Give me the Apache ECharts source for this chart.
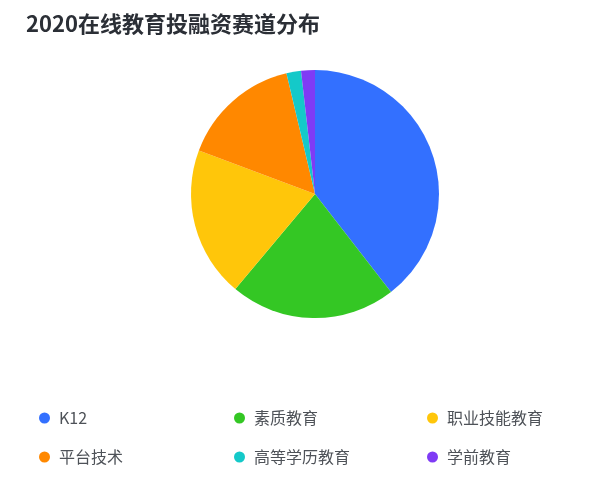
<!DOCTYPE html>
<html><head><meta charset="utf-8">
<script src="https://cdn.jsdelivr.net/npm/echarts@6/dist/echarts.min.js"></script>
<style>html,body{margin:0;padding:0;background:#fff}#c{width:600px;height:492px}</style>
</head><body><div id="c"></div>
<script>
const categories = ['K12','素质教育','职业技能教育','平台技术','高等学历教育','学前教育'];
const values = [39.5, 21.6, 19.6, 15.6, 1.9, 1.8];
const colors = ['#3370FF','#34C724','#FFC60A','#FF8800','#14C9C9','#7F3BF5'];
const legendCols = [['K12','平台技术'],['素质教育','高等学历教育'],['职业技能教育','学前教育']];
const legendLeft = [34, 229, 422];

const chart = echarts.init(document.getElementById('c'));
const font = '"Noto Sans CJK SC", "Noto Sans", sans-serif';
chart.setOption({
  color: colors,
  animation: false,
  title: {
    text: '2020在线教育投融资赛道分布',
    left: 21, top: 8,
    textStyle: {fontFamily: font, fontSize: 22, fontWeight: 'bold', color: '#2b2f36'}
  },
  legend: legendCols.map((d, i) => ({
    data: d,
    orient: 'vertical',
    left: legendLeft[i],
    top: 405,
    itemGap: 23,
    itemWidth: 11, itemHeight: 11,
    icon: 'circle',
    textStyle: {fontFamily: font, fontSize: 16, color: '#4e5258', padding: [0, 0, 0, 4]}
  })),
  series: [{
    type: 'pie',
    center: [315, 194],
    radius: 124,
    startAngle: 90,
    clockwise: true,
    label: {show: false},
    labelLine: {show: false},
    itemStyle: {borderWidth: 0},
    data: categories.map((c, i) => ({name: c, value: values[i]}))
  }]
});
</script></body></html>
